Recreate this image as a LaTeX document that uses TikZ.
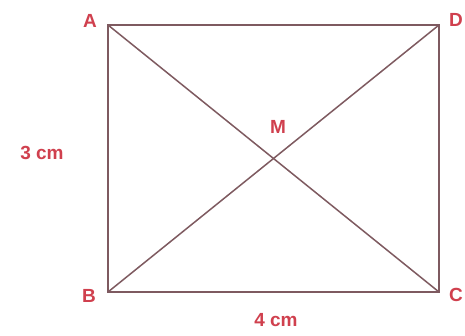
\documentclass[tikz,border=0pt]{standalone}
\usepackage{fontspec}
\setmainfont{Liberation Sans}
\definecolor{edgec}{HTML}{7E5A60}
\definecolor{labc}{HTML}{D0404E}
\begin{document}
\begin{tikzpicture}[x=1pt,y=-1pt,
  edge/.style={draw=edgec,line width=1.5pt},
  lab/.style={text=labc,font=\fontsize{19}{22}\selectfont\bfseries,inner sep=0pt}]
\useasboundingbox (0,0) rectangle (465,336);
\fill[white] (0,0) rectangle (465,336);
\coordinate (A) at (108,25);
\coordinate (D) at (439,25);
\coordinate (B) at (108,292);
\coordinate (C) at (439,292);
\draw[edge] (A) -- (D) -- (C) -- (B) -- cycle;
\draw[edge] (A) -- (C);
\draw[edge] (B) -- (D);
\node[lab] (lA) at (90,21) {A};
\node[lab] (lD) at (456,20) {D};
\node[lab] (lB) at (89,296) {B};
\node[lab] (lC) at (456,295) {C};
\node[lab] (lM) at (278,127) {M};
\node[lab] (l3) at (42,153) {3 cm};
\node[lab] (l4) at (276,320) {4 cm};
\end{tikzpicture}
\end{document}
